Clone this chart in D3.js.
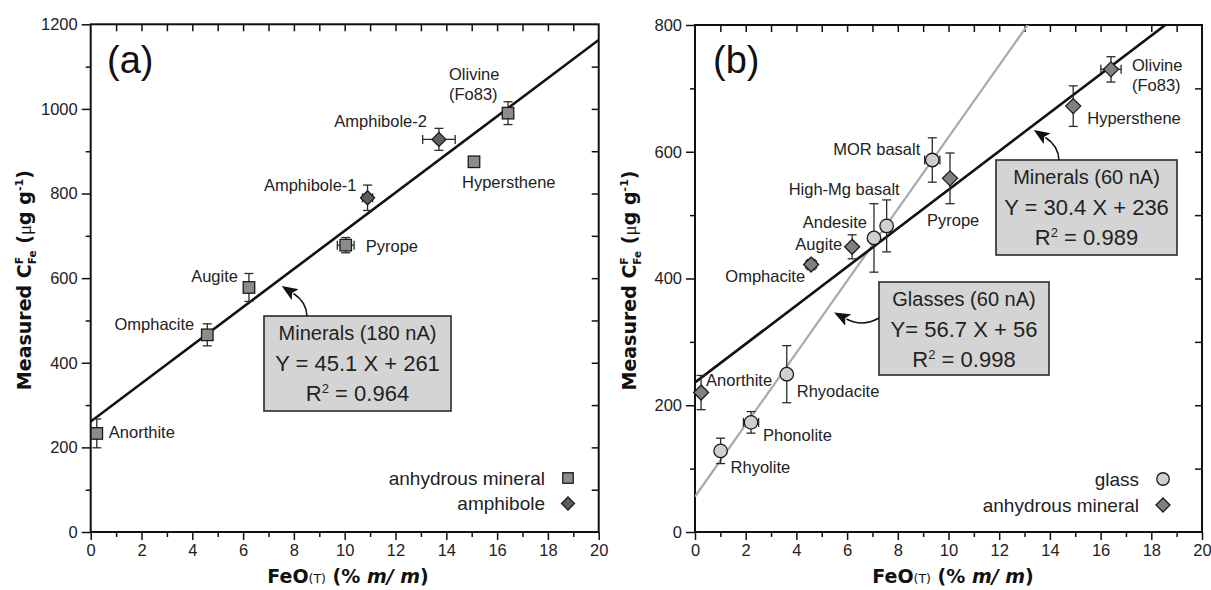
<!DOCTYPE html>
<html>
<head>
<meta charset="utf-8">
<script src="https://cdn.jsdelivr.net/npm/d3@7"></script>
<style>
  html, body { margin: 0; padding: 0; background: #fff; }
  svg { display: block; font-family: "Liberation Sans", Arial, Helvetica, sans-serif; }
  .axis-title { font-family: "DejaVu Sans", "Liberation Sans", Arial, sans-serif; font-weight: bold; }
</style>
</head>
<body>
<svg id="chart" width="1211" height="590"></svg>
<script>
// ---------- data ----------
const xTickValues  = [0, 2, 4, 6, 8, 10, 12, 14, 16, 18, 20];
const yTickValuesA = [0, 200, 400, 600, 800, 1000, 1200];
const yTickValuesB = [0, 200, 400, 600, 800];

// Panel (a): 180 nA
const anhydrousA_names = ["Anorthite", "Omphacite", "Augite", "Pyrope", "Hypersthene", "Olivine\n(Fo83)"];
const anhydrousA_feo   = [0.24, 4.59, 6.23, 10.04, 15.09, 16.43];
const anhydrousA_cf    = [233, 466, 578, 678, 875, 990];
const anhydrousA_errY  = [34, 26, 33, 18, 8, 27];
const anhydrousA_errX  = [0, 0, 0, 0.33, 0, 0];

const amphiboleA_names = ["Amphibole-1", "Amphibole-2"];
const amphiboleA_feo   = [10.9, 13.71];
const amphiboleA_cf    = [790, 928];
const amphiboleA_errY  = [30, 26];
const amphiboleA_errX  = [0.2, 0.64];

const fitA_slope = 45.1, fitA_intercept = 261, fitA_r2 = "0.964";

// Panel (b): 60 nA
const glassB_names = ["Rhyolite", "Phonolite", "Rhyodacite", "Andesite", "High-Mg basalt", "MOR basalt"];
const glassB_feo   = [1.01, 2.21, 3.62, 7.06, 7.56, 9.36];
const glassB_cf    = [128, 173, 249, 464, 483, 587];
const glassB_errY  = [20, 17, 45, 54, 41, 35];
const glassB_errX  = [0, 0.3, 0, 0, 0, 0.3];

const mineralB_names = ["Anorthite", "Omphacite", "Augite", "Pyrope", "Hypersthene", "Olivine\n(Fo83)"];
const mineralB_feo   = [0.24, 4.58, 6.2, 10.06, 14.92, 16.41];
const mineralB_cf    = [220, 422, 450, 558, 672, 730];
const mineralB_errY  = [27, 8, 19, 40, 32, 20];
const mineralB_errX  = [0, 0.2, 0, 0, 0, 0.4];

const fitBmin_slope = 30.4, fitBmin_intercept = 236, fitBmin_r2 = "0.989";
const fitBgl_slope  = 56.7, fitBgl_intercept  = 56,  fitBgl_r2  = "0.998";

const legendA_labels = ["anhydrous mineral", "amphibole"];
const legendB_labels = ["glass", "anhydrous mineral"];

// ---------- layout ----------
const frameA = { left: 90.7, right: 598.7, top: 24.3, bottom: 532 };
const frameB = { left: 695,  right: 1202,  top: 25,   bottom: 532 };

// label offsets from each point: [dx, dy, anchor]
const labelPosA = {
  "Anorthite":      [12, 5, "start"],
  "Omphacite":      [-13, -5, "end"],
  "Augite":         [-11, -5, "end"],
  "Pyrope":         [20, 7, "start"],
  "Hypersthene":    [-12, 26, "start"],
  "Olivine\n(Fo83)":[-59, -33, "start"],
  "Amphibole-1":    [-11, -7, "end"],
  "Amphibole-2":    [-12, -12, "end"]
};
const labelPosB = {
  "Rhyolite":       [10, 22, "start"],
  "Phonolite":      [12, 19, "start"],
  "Rhyodacite":     [10, 23, "start"],
  "Andesite":       [-7, -10, "end"],
  "High-Mg basalt": [13, -31, "end"],
  "MOR basalt":     [-12, -5, "end"],
  "Anorthite":      [5, -7, "start"],
  "Omphacite":      [-6, 17, "end"],
  "Augite":         [-10, 3, "end"],
  "Pyrope":         [-23, 48, "start"],
  "Hypersthene":    [14, 18, "start"],
  "Olivine\n(Fo83)":[21, 2, "start"]
};

const C = {
  ink: "#111",
  text: "#222",
  err: "#2a2a2a",
  square: "#8c8c8c",
  amph: "#5e5e5e",
  diamondB: "#808080",
  circle: "#cfcfcf",
  box: "#d4d4d4",
  grayLine: "#a9a9a9"
};

const svg = d3.select("#chart");
const defs = svg.append("defs");

defs.append("marker")
  .attr("id", "arrowhead")
  .attr("markerUnits", "userSpaceOnUse")
  .attr("viewBox", "0 -7 17 14")
  .attr("markerWidth", 17).attr("markerHeight", 14)
  .attr("refX", 2).attr("refY", 0)
  .attr("orient", "auto")
  .append("path")
  .attr("d", "M0,-6.5 L16,0 L0,6.5 L3.5,0 Z")
  .attr("fill", C.ink);

function makePanel(id, frame, yMax, yTicks) {
  const x = d3.scaleLinear().domain([0, 20]).range([frame.left, frame.right]);
  const y = d3.scaleLinear().domain([0, yMax]).range([frame.bottom, frame.top]);
  const g = svg.append("g").attr("class", "panel-" + id);

  defs.append("clipPath").attr("id", "clip-" + id)
    .append("rect")
    .attr("x", frame.left).attr("y", frame.top)
    .attr("width", frame.right - frame.left)
    .attr("height", frame.bottom - frame.top);

  const styleAxis = sel => {
    sel.select(".domain").remove();
    sel.selectAll(".tick line").attr("stroke", C.ink).attr("stroke-width", 1.5);
    sel.selectAll(".tick text")
      .attr("fill", C.text)
      .style("font-size", "16.5px")
      .style("font-family", "'Liberation Sans', Arial, sans-serif");
  };

  const xMinor = d3.range(1, 20, 2);
  const yMinor = d3.range(100, yMax, 200);

  // bottom
  g.append("g").attr("transform", `translate(0,${frame.bottom})`)
    .call(d3.axisBottom(x).tickValues(xTickValues).tickSize(8).tickSizeOuter(0).tickPadding(4).tickFormat(d3.format("d")))
    .call(styleAxis);
  g.append("g").attr("transform", `translate(0,${frame.bottom})`)
    .call(d3.axisBottom(x).tickValues(xMinor).tickSize(5).tickSizeOuter(0).tickFormat(""))
    .call(styleAxis);
  // left
  g.append("g").attr("transform", `translate(${frame.left},0)`)
    .call(d3.axisLeft(y).tickValues(yTicks).tickSize(9).tickSizeOuter(0).tickPadding(4).tickFormat(d3.format("d")))
    .call(styleAxis);
  g.append("g").attr("transform", `translate(${frame.left},0)`)
    .call(d3.axisLeft(y).tickValues(yMinor).tickSize(5).tickSizeOuter(0).tickFormat(""))
    .call(styleAxis);
  // top (inward)
  g.append("g").attr("transform", `translate(0,${frame.top})`)
    .call(d3.axisBottom(x).tickValues(d3.range(1, 20, 1)).tickSize(7).tickSizeOuter(0).tickFormat(""))
    .call(styleAxis);
  // right (inward)
  g.append("g").attr("transform", `translate(${frame.right},0)`)
    .call(d3.axisLeft(y).tickValues(d3.range(100, yMax, 100)).tickSize(7).tickSizeOuter(0).tickFormat(""))
    .call(styleAxis);

  // frame
  g.append("rect")
    .attr("x", frame.left).attr("y", frame.top)
    .attr("width", frame.right - frame.left)
    .attr("height", frame.bottom - frame.top)
    .attr("fill", "none").attr("stroke", C.ink).attr("stroke-width", 2);

  return { x, y, g, frame, id };
}

function axisTitles(P, xTitleX, yTitleX) {
  const { g, frame } = P;
  const xt = g.append("text")
    .attr("class", "axis-title")
    .attr("x", xTitleX).attr("y", 583)
    .attr("text-anchor", "middle")
    .attr("fill", C.ink)
    .style("font-size", "19px");
  xt.append("tspan").text("FeO");
  xt.append("tspan").style("font-size", "12.5px").style("font-weight", "normal").text("(T)");
  xt.append("tspan").text(" (% ");
  xt.append("tspan").style("font-style", "italic").text("m/ m");
  xt.append("tspan").text(")");

  const cy = (frame.top + frame.bottom) / 2 + 2;
  const yt = g.append("text")
    .attr("class", "axis-title")
    .attr("transform", `translate(${yTitleX},${cy}) rotate(-90)`)
    .attr("text-anchor", "middle")
    .attr("fill", C.ink)
    .style("font-size", "19px");
  yt.append("tspan").text("Measured C");
  yt.append("tspan").attr("dy", -8).style("font-size", "11px").text("F");
  yt.append("tspan").attr("dx", -7.5).attr("dy", 13).style("font-size", "10.5px").text("Fe");
  yt.append("tspan").attr("dy", -5).text(" (");
  yt.append("tspan").style("font-weight", "normal").style("font-family", "'Liberation Serif', serif").text("\u03bc");
  yt.append("tspan").text("g g");
  yt.append("tspan").attr("dy", -8).style("font-size", "11px").text("-1");
  yt.append("tspan").attr("dy", 8).text(")");
}

function fitLine(P, slope, intercept, color, width) {
  const { x, y, g, id } = P;
  const xs = [0, 20];
  g.append("line")
    .attr("clip-path", `url(#clip-${id})`)
    .attr("x1", x(xs[0])).attr("y1", y(slope * xs[0] + intercept))
    .attr("x2", x(xs[1])).attr("y2", y(slope * xs[1] + intercept))
    .attr("stroke", color).attr("stroke-width", width);
}

function rows(names, feo, cf, ey, ex) {
  return names.map((n, i) => ({ name: n, feo: feo[i], cf: cf[i], ey: ey[i], ex: ex[i] }));
}

function errorBars(P, data) {
  const { x, y, g } = P;
  const cap = 4.5;
  const eg = g.append("g").attr("stroke", C.err).attr("stroke-width", 1.3).attr("fill", "none");
  data.forEach(d => {
    const cx = x(d.feo), cy = y(d.cf);
    if (d.ey > 0) {
      const y1 = y(d.cf - d.ey), y2 = y(d.cf + d.ey);
      eg.append("line").attr("x1", cx).attr("x2", cx).attr("y1", y1).attr("y2", y2);
      eg.append("line").attr("x1", cx - cap).attr("x2", cx + cap).attr("y1", y1).attr("y2", y1);
      eg.append("line").attr("x1", cx - cap).attr("x2", cx + cap).attr("y1", y2).attr("y2", y2);
    }
    if (d.ex > 0) {
      const x1 = x(d.feo - d.ex), x2 = x(d.feo + d.ex);
      eg.append("line").attr("x1", x1).attr("x2", x2).attr("y1", cy).attr("y2", cy);
      eg.append("line").attr("x1", x1).attr("x2", x1).attr("y1", cy - cap).attr("y2", cy + cap);
      eg.append("line").attr("x1", x2).attr("x2", x2).attr("y1", cy - cap).attr("y2", cy + cap);
    }
  });
}

function drawShape(sel, shape, cx, cy, size, fill) {
  let el;
  if (shape === "square") {
    el = sel.append("rect").attr("x", cx - size / 2).attr("y", cy - size / 2)
      .attr("width", size).attr("height", size);
  } else if (shape === "diamond") {
    const h = size / 2;
    el = sel.append("path").attr("d", `M${cx},${cy - h}L${cx + h},${cy}L${cx},${cy + h}L${cx - h},${cy}Z`);
  } else {
    el = sel.append("circle").attr("cx", cx).attr("cy", cy).attr("r", size / 2);
  }
  el.attr("fill", fill).attr("stroke", "#1a1a1a").attr("stroke-width", 1.3);
  return el;
}

function points(P, data, shape, size, fill) {
  const { x, y, g } = P;
  const pg = g.append("g");
  data.forEach(d => drawShape(pg, shape, x(d.feo), y(d.cf), size, fill));
}

function labels(P, data, pos) {
  const { x, y, g } = P;
  data.forEach(d => {
    const [dx, dy, anchor] = pos[d.name];
    const lines = d.name.split("\n");
    const t = g.append("text")
      .attr("x", x(d.feo) + dx).attr("y", y(d.cf) + dy)
      .attr("text-anchor", anchor)
      .attr("fill", C.text)
      .style("font-size", "16.5px");
    lines.forEach((ln, i) => {
      t.append("tspan").attr("x", x(d.feo) + dx).attr("dy", i === 0 ? 0 : 20).text(ln);
    });
  });
}

function fitBox(g, box, title, slope, intercept, r2, eqSep) {
  g.append("rect")
    .attr("x", box.x).attr("y", box.y).attr("width", box.w).attr("height", box.h)
    .attr("fill", C.box).attr("stroke", "#2a2a2a").attr("stroke-width", 1.6);
  const cx = box.x + box.w / 2;
  g.append("text").attr("x", cx).attr("y", box.y + 23.5).attr("text-anchor", "middle")
    .attr("fill", C.text).style("font-size", "20px").text(title);
  g.append("text").attr("x", cx).attr("y", box.y + 55).attr("text-anchor", "middle")
    .attr("fill", C.text).style("font-size", "22px")
    .text(`Y${eqSep}= ${slope} X + ${intercept}`);
  const r = g.append("text").attr("x", cx).attr("y", box.y + 85).attr("text-anchor", "middle")
    .attr("fill", C.text).style("font-size", "22px");
  r.append("tspan").text("R");
  r.append("tspan").attr("dy", -8).style("font-size", "13px").text("2");
  r.append("tspan").attr("dy", 8).text(` = ${r2}`);
}

function arrow(g, d) {
  g.append("path").attr("d", d)
    .attr("fill", "none").attr("stroke", C.ink).attr("stroke-width", 1.5)
    .attr("marker-end", "url(#arrowhead)");
}

function legend(g, items, textRight, markerX, y0, step) {
  items.forEach((it, i) => {
    const cy = y0 + i * step;
    g.append("text").attr("x", textRight).attr("y", cy + 6.5)
      .attr("text-anchor", "end").attr("fill", C.text)
      .style("font-size", "19px").text(it.label);
    drawShape(g, it.shape, markerX, cy, it.size, it.fill);
  });
}

// ---------- panel (a) ----------
const PA = makePanel("a", frameA, 1200, yTickValuesA);
axisTitles(PA, 348, 31);
const anhA = rows(anhydrousA_names, anhydrousA_feo, anhydrousA_cf, anhydrousA_errY, anhydrousA_errX);
const ampA = rows(amphiboleA_names, amphiboleA_feo, amphiboleA_cf, amphiboleA_errY, amphiboleA_errX);
fitLine(PA, fitA_slope, fitA_intercept, C.ink, 2.6);
errorBars(PA, anhA);
errorBars(PA, ampA);
points(PA, anhA, "square", 11.5, C.square);
points(PA, ampA, "diamond", 14, C.amph);
labels(PA, anhA, labelPosA);
labels(PA, ampA, labelPosA);
fitBox(PA.g, { x: 264, y: 316, w: 187, h: 95 }, "Minerals (180 nA)", fitA_slope, fitA_intercept, fitA_r2, " ");
arrow(PA.g, "M307,316 C306.5,306 302,299 293.5,293.5");
legend(PA.g, [
  { label: legendA_labels[0], shape: "square", size: 10.5, fill: C.square },
  { label: legendA_labels[1], shape: "diamond", size: 13, fill: C.amph }
], 545, 568, 478, 25.5);
PA.g.append("text").attr("x", 107).attr("y", 73).attr("fill", C.ink)
  .style("font-size", "38px").text("(a)");

// ---------- panel (b) ----------
const PB = makePanel("b", frameB, 800, yTickValuesB);
axisTitles(PB, 953, 636);
const glB = rows(glassB_names, glassB_feo, glassB_cf, glassB_errY, glassB_errX);
const minB = rows(mineralB_names, mineralB_feo, mineralB_cf, mineralB_errY, mineralB_errX);
fitLine(PB, fitBgl_slope, fitBgl_intercept, C.grayLine, 2.2);
fitLine(PB, fitBmin_slope, fitBmin_intercept, C.ink, 2.6);
errorBars(PB, glB);
errorBars(PB, minB);
points(PB, glB, "circle", 13.5, C.circle);
points(PB, minB, "diamond", 15, C.diamondB);
labels(PB, glB, labelPosB);
labels(PB, minB, labelPosB);
fitBox(PB.g, { x: 996, y: 160, w: 181, h: 95 }, "Minerals (60 nA)", fitBmin_slope, fitBmin_intercept, fitBmin_r2, " ");
fitBox(PB.g, { x: 879, y: 282, w: 170, h: 93 }, "Glasses (60 nA)", fitBgl_slope, fitBgl_intercept, fitBgl_r2, "");
arrow(PB.g, "M1059,160 C1058.5,150 1054,143 1045.5,137.5");
arrow(PB.g, "M879,318 C867,325 856,324 846.5,319");
legend(PB.g, [
  { label: legendB_labels[0], shape: "circle", size: 12.5, fill: C.circle },
  { label: legendB_labels[1], shape: "diamond", size: 14, fill: C.diamondB }
], 1139, 1163, 479, 26);
PB.g.append("text").attr("x", 713).attr("y", 73).attr("fill", C.ink)
  .style("font-size", "38px").text("(b)");
</script>
</body>
</html>
